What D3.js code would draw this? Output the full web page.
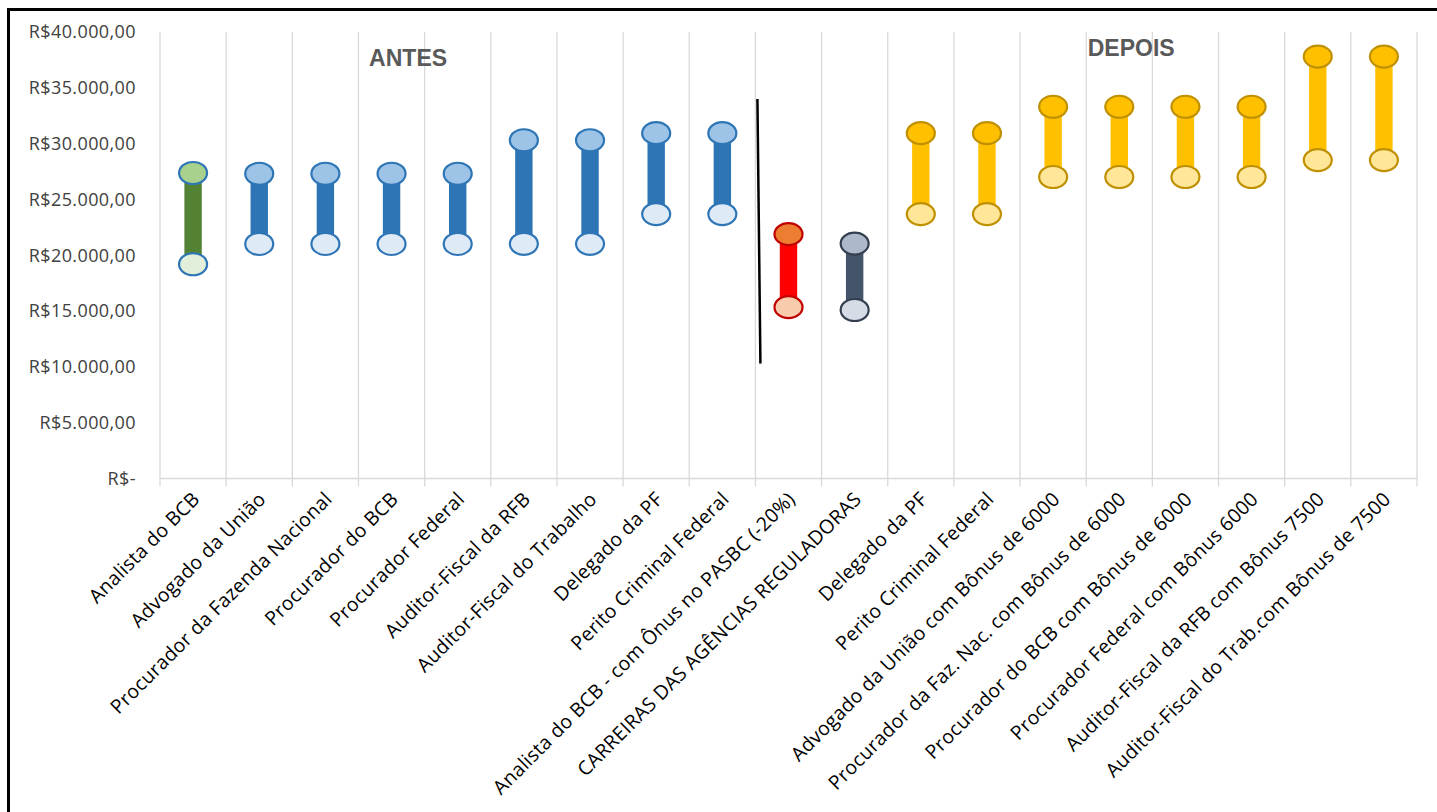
<!DOCTYPE html>
<html><head><meta charset="utf-8">
<script src="https://cdn.jsdelivr.net/npm/d3@7"></script>
<style>
html,body{margin:0;padding:0;background:#fff;overflow:hidden;}
svg{display:block;}
</style></head>
<body><svg id="c" width="1437" height="812"></svg>
<script>
const categories = [
 "Analista do BCB","Advogado da União","Procurador da Fazenda Nacional","Procurador do BCB",
 "Procurador Federal","Auditor-Fiscal da RFB","Auditor-Fiscal do Trabalho","Delegado da PF",
 "Perito Criminal Federal","Analista do BCB - com Ônus no PASBC (-20%)","CARREIRAS DAS AGÊNCIAS REGULADORAS",
 "Delegado da PF ","Perito Criminal Federal ","Advogado da União com Bônus de 6000",
 "Procurador da Faz. Nac. com Bônus de 6000","Procurador do BCB com Bônus de 6000",
 "Procurador Federal com Bônus 6000","Auditor-Fiscal da RFB com Bônus 7500",
 "Auditor-Fiscal do Trab.com Bônus de 7500"];
const lowValues  = [19197,21014,21014,21014,21014,21029,21029,23692,23692,15358,15100,23692,23692,27014,27014,27014,27014,28529,28529];
const highValues = [27370,27303,27303,27303,27303,30303,30303,30937,30937,21896,21050,30937,30937,33303,33303,33303,33303,37803,37803];
const groups = ["green","blue","blue","blue","blue","blue","blue","blue","blue","red","slate",
 "yellow","yellow","yellow","yellow","yellow","yellow","yellow","yellow"];
const yTicks = [0,5000,10000,15000,20000,25000,30000,35000,40000];
const yTickLabels = ["R$-","R$5.000,00","R$10.000,00","R$15.000,00","R$20.000,00","R$25.000,00","R$30.000,00","R$35.000,00","R$40.000,00"];
const sectionLabels = ["ANTES","DEPOIS"];
const sectionAnchorCats = [3,14];
const sectionValues = [37700,38550];
const dividerValues = [34000,10300];

const palette = {
 green:{bar:"#548235",top:"#A9D18E",bottom:"#E2EFDA",stroke:"#2E75B6"},
 blue:{bar:"#2E75B6",top:"#9DC3E6",bottom:"#DEEBF7",stroke:"#2E75B6"},
 red:{bar:"#FF0000",top:"#ED7D31",bottom:"#F8CBAD",stroke:"#C00000"},
 slate:{bar:"#44546A",top:"#ADB9CA",bottom:"#D6DCE5",stroke:"#333F50"},
 yellow:{bar:"#FFC000",top:"#FFC000",bottom:"#FFE699",stroke:"#BF9000"}
};

const svg = d3.select("#c");
const L=160,R=1417,T=32,B=478.6;
const x = d3.scaleBand().domain(d3.range(categories.length)).range([L,R]).padding(0);
const y = d3.scaleLinear().domain([0,40000]).range([B,T]);
const bw = x.bandwidth();

// frame
svg.append("rect").attr("x",8.5).attr("y",9.5).attr("width",1450).attr("height",830)
 .attr("fill","none").attr("stroke","#000").attr("stroke-width",3);

// vertical gridlines
const gx = d3.range(categories.length+1).map(i=>L+i*bw);
svg.append("g").selectAll("line").data(gx).join("line")
 .attr("x1",d=>d).attr("x2",d=>d).attr("y1",T).attr("y2",B+8)
 .attr("stroke","#D9D9D9").attr("stroke-width",1.3);
// baseline
svg.append("line").attr("x1",L).attr("x2",R).attr("y1",y(0)).attr("y2",y(0))
 .attr("stroke","#D9D9D9").attr("stroke-width",1.5);

// y axis labels
svg.append("g").selectAll("text").data(yTicks).join("text")
 .attr("x",136).attr("y",d=>y(d)).attr("dy","0.35em").attr("text-anchor","end")
 .attr("font-family","'Open Sans'").attr("font-size",18).attr("letter-spacing","0.4px")
 .attr("fill","#404040").text((d,i)=>yTickLabels[i]);

// x labels
svg.append("g").selectAll("text").data(categories).join("text")
 .attr("transform",(d,i)=>`translate(${x(i)+bw/2+3},${B+17}) rotate(-45)`)
 .attr("text-anchor","end").attr("dy","0.35em")
 .attr("font-family","'Open Sans'").attr("font-size",19.5).attr("letter-spacing","0.25px")
 .attr("fill","#000").text(d=>d.trim());

// section labels
svg.append("g").selectAll("text").data(sectionLabels).join("text")
 .attr("x",(d,i)=>x(sectionAnchorCats[i])+bw*(i===0?0.75:0.68)).attr("y",(d,i)=>y(sectionValues[i]))
 .attr("dy","0.35em").attr("text-anchor","middle")
 .attr("font-family","'Liberation Sans',Arial").attr("font-weight","bold").attr("font-size",23)
 .attr("fill","#595959").text(d=>d);

// divider
svg.append("line")
 .attr("x1",x(9)+2).attr("x2",x(9)+5)
 .attr("y1",y(dividerValues[0])).attr("y2",y(dividerValues[1]))
 .attr("stroke","#000").attr("stroke-width",2.5);

// bars + markers
const g = svg.append("g");
categories.forEach((c,i)=>{
  const p = palette[groups[i]];
  const cx = x(i)+bw/2;
  g.append("rect").attr("x",cx-8.7).attr("width",17.4)
   .attr("y",y(highValues[i])).attr("height",y(lowValues[i])-y(highValues[i]))
   .attr("fill",p.bar);
  g.append("ellipse").attr("cx",cx).attr("cy",y(lowValues[i])).attr("rx",14).attr("ry",11)
   .attr("fill",p.bottom).attr("stroke",p.stroke).attr("stroke-width",2.2);
  g.append("ellipse").attr("cx",cx).attr("cy",y(highValues[i])).attr("rx",14).attr("ry",11)
   .attr("fill",p.top).attr("stroke",p.stroke).attr("stroke-width",2.2);
});
</script></body></html>
